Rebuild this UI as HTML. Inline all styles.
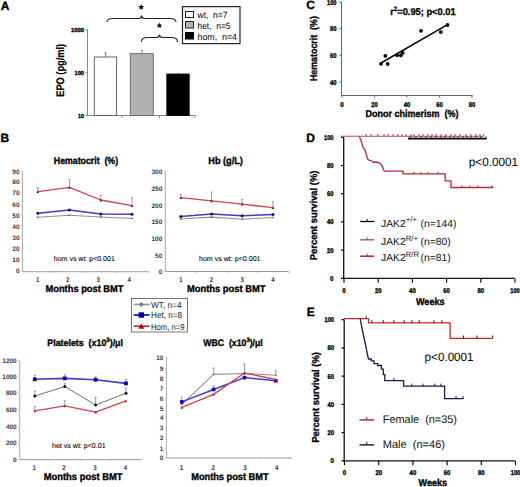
<!DOCTYPE html><html><head><meta charset="utf-8"><style>html,body{margin:0;padding:0;background:#fff;width:520px;height:487px;overflow:hidden}svg{display:block}</style></head><body><svg width="520" height="487" viewBox="0 0 520 487" text-rendering="geometricPrecision"><text x="0.8" y="9.6" font-size="12" font-family="Liberation Sans" font-weight="bold" stroke="#000" stroke-width="0.35" text-anchor="start" fill="#000" >A</text>
<line x1="87.5" y1="29.5" x2="87.5" y2="116" stroke="#888" stroke-width="1"/>
<line x1="87.5" y1="115.5" x2="195.5" y2="115.5" stroke="#888" stroke-width="1"/>
<line x1="122" y1="115.5" x2="122" y2="118" stroke="#888" stroke-width="1"/>
<line x1="159.5" y1="115.5" x2="159.5" y2="118" stroke="#888" stroke-width="1"/>
<line x1="195" y1="115.5" x2="195" y2="118" stroke="#888" stroke-width="1"/>
<line x1="85.5" y1="29.7" x2="87.5" y2="29.7" stroke="#888" stroke-width="1"/>
<line x1="85.5" y1="72.8" x2="87.5" y2="72.8" stroke="#888" stroke-width="1"/>
<line x1="85.5" y1="115.5" x2="87.5" y2="115.5" stroke="#888" stroke-width="1"/>
<text x="84" y="32" font-size="6" font-family="Liberation Sans" font-weight="bold" stroke="#000" stroke-width="0.35" text-anchor="end" fill="#000" textLength="13" lengthAdjust="spacingAndGlyphs" >1000</text>
<text x="84" y="75" font-size="6" font-family="Liberation Sans" font-weight="bold" stroke="#000" stroke-width="0.35" text-anchor="end" fill="#000" textLength="9.5" lengthAdjust="spacingAndGlyphs" >100</text>
<text x="84" y="118" font-size="6" font-family="Liberation Sans" font-weight="bold" stroke="#000" stroke-width="0.35" text-anchor="end" fill="#000" textLength="6" lengthAdjust="spacingAndGlyphs" >10</text>
<text x="0" y="0" font-size="11" font-family="Liberation Sans" font-weight="bold" stroke="#000" stroke-width="0.2" text-anchor="middle" transform="translate(63.8,70.3) rotate(-90)" textLength="53" lengthAdjust="spacingAndGlyphs">EPO (pg/ml)</text>
<rect x="94.3" y="57" width="22.3" height="58.5" fill="#fff" stroke="#555" stroke-width="0.9"/>
<rect x="130.3" y="53.6" width="23" height="62" fill="#b0b0b0" stroke="#666" stroke-width="0.9"/>
<rect x="166.8" y="74" width="22.4" height="41.5" fill="#000" stroke="#000" stroke-width="0.8"/>
<line x1="105.5" y1="57" x2="105.5" y2="53" stroke="#666" stroke-width="0.8"/>
<line x1="104.3" y1="53" x2="106.7" y2="53" stroke="#666" stroke-width="0.8"/>
<line x1="142" y1="53.5" x2="142" y2="50.3" stroke="#666" stroke-width="0.8"/>
<line x1="141" y1="50.3" x2="143" y2="50.3" stroke="#666" stroke-width="0.8"/>
<line x1="178" y1="74" x2="178" y2="72.5" stroke="#666" stroke-width="0.8"/>
<path d="M107,22 Q107,18.5 113,18.5 L138.5,18.5 Q141.5,18.5 141.5,15.5 Q141.5,18.5 144.5,18.5 L170,18.5 Q176,18.5 176,22" fill="none" stroke="#222" stroke-width="1.1"/>
<path d="M141.5,42 Q141.5,37.5 147.5,37.5 L156.5,37.5 Q159.5,37.5 159.5,34.5 Q159.5,37.5 162.5,37.5 L171.5,37.5 Q177.5,37.5 177.5,42" fill="none" stroke="#222" stroke-width="1.1"/>
<polygon points="141.20,4.10 142.08,5.99 144.15,6.24 142.63,7.66 143.02,9.71 141.20,8.70 139.38,9.71 139.77,7.66 138.25,6.24 140.32,5.99" fill="#111"/>
<polygon points="159.40,22.50 160.28,24.39 162.35,24.64 160.83,26.06 161.22,28.11 159.40,27.10 157.58,28.11 157.97,26.06 156.45,24.64 158.52,24.39" fill="#111"/>
<rect x="182.5" y="6.6" width="57.5" height="37" fill="#fff" stroke="#222" stroke-width="1.2"/>
<rect x="185.5" y="11.5" width="8" height="6" fill="#fff" stroke="#222" stroke-width="1"/>
<rect x="185.5" y="21.5" width="8" height="6.5" fill="#b4b4b4" stroke="#222" stroke-width="1"/>
<rect x="185.5" y="32.5" width="8" height="6.5" fill="#000" stroke="#000" stroke-width="1"/>
<text x="197.5" y="18" font-size="9" font-family="Liberation Sans" text-anchor="start" fill="#000" textLength="30" lengthAdjust="spacingAndGlyphs" >wt,&#160;&#160;n=7</text>
<text x="197.5" y="28.5" font-size="9" font-family="Liberation Sans" text-anchor="start" fill="#000" textLength="33" lengthAdjust="spacingAndGlyphs" >het,&#160;&#160;n=5</text>
<text x="197.5" y="39.5" font-size="9" font-family="Liberation Sans" text-anchor="start" fill="#000" textLength="39.5" lengthAdjust="spacingAndGlyphs" >hom,&#160;&#160;n=4</text>
<text x="306.3" y="9" font-size="12" font-family="Liberation Sans" font-weight="bold" stroke="#000" stroke-width="0.35" text-anchor="start" fill="#000" >C</text>
<line x1="341.5" y1="1.5" x2="341.5" y2="96" stroke="#666" stroke-width="1"/>
<line x1="341.5" y1="95.5" x2="472.5" y2="95.5" stroke="#666" stroke-width="1"/>
<line x1="339.5" y1="2.3" x2="341.5" y2="2.3" stroke="#666" stroke-width="1"/>
<text x="336.5" y="4.699999999999999" font-size="7" font-family="Liberation Sans" font-weight="bold" stroke="#000" stroke-width="0.35" text-anchor="end" fill="#000" textLength="9.5" lengthAdjust="spacingAndGlyphs" >100</text>
<line x1="339.5" y1="28.5" x2="341.5" y2="28.5" stroke="#666" stroke-width="1"/>
<text x="336.5" y="30.9" font-size="7" font-family="Liberation Sans" font-weight="bold" stroke="#000" stroke-width="0.35" text-anchor="end" fill="#000" textLength="6.5" lengthAdjust="spacingAndGlyphs" >80</text>
<line x1="339.5" y1="55.4" x2="341.5" y2="55.4" stroke="#666" stroke-width="1"/>
<text x="336.5" y="57.8" font-size="7" font-family="Liberation Sans" font-weight="bold" stroke="#000" stroke-width="0.35" text-anchor="end" fill="#000" textLength="6.5" lengthAdjust="spacingAndGlyphs" >60</text>
<line x1="339.5" y1="82.1" x2="341.5" y2="82.1" stroke="#666" stroke-width="1"/>
<text x="336.5" y="84.5" font-size="7" font-family="Liberation Sans" font-weight="bold" stroke="#000" stroke-width="0.35" text-anchor="end" fill="#000" textLength="6.5" lengthAdjust="spacingAndGlyphs" >40</text>
<line x1="342.0" y1="95.5" x2="342.0" y2="97.5" stroke="#666" stroke-width="1"/>
<text x="342.0" y="106.6" font-size="7" font-family="Liberation Sans" font-weight="bold" stroke="#000" stroke-width="0.35" text-anchor="middle" fill="#000" textLength="3.5" lengthAdjust="spacingAndGlyphs" >0</text>
<line x1="374.5" y1="95.5" x2="374.5" y2="97.5" stroke="#666" stroke-width="1"/>
<text x="374.5" y="106.6" font-size="7" font-family="Liberation Sans" font-weight="bold" stroke="#000" stroke-width="0.35" text-anchor="middle" fill="#000" textLength="6.5" lengthAdjust="spacingAndGlyphs" >20</text>
<line x1="407.0" y1="95.5" x2="407.0" y2="97.5" stroke="#666" stroke-width="1"/>
<text x="407.0" y="106.6" font-size="7" font-family="Liberation Sans" font-weight="bold" stroke="#000" stroke-width="0.35" text-anchor="middle" fill="#000" textLength="6.5" lengthAdjust="spacingAndGlyphs" >40</text>
<line x1="439.5" y1="95.5" x2="439.5" y2="97.5" stroke="#666" stroke-width="1"/>
<text x="439.5" y="106.6" font-size="7" font-family="Liberation Sans" font-weight="bold" stroke="#000" stroke-width="0.35" text-anchor="middle" fill="#000" textLength="6.5" lengthAdjust="spacingAndGlyphs" >60</text>
<line x1="472.0" y1="95.5" x2="472.0" y2="97.5" stroke="#666" stroke-width="1"/>
<text x="472.0" y="106.6" font-size="7" font-family="Liberation Sans" font-weight="bold" stroke="#000" stroke-width="0.35" text-anchor="middle" fill="#000" textLength="6.5" lengthAdjust="spacingAndGlyphs" >80</text>
<text x="0" y="0" font-size="10" font-family="Liberation Sans" font-weight="bold" stroke="#000" stroke-width="0.3" text-anchor="middle" transform="translate(316.6,48.6) rotate(-90)" textLength="65" lengthAdjust="spacingAndGlyphs">Hematocrit&#160; (%)</text>
<text x="365.4" y="116.8" font-size="10" font-family="Liberation Sans" font-weight="bold" stroke="#000" stroke-width="0.35" text-anchor="start" fill="#000" textLength="93" lengthAdjust="spacingAndGlyphs" >Donor chimerism&#160; (%)</text>
<text x="390.2" y="15" font-size="9.8" font-family="Liberation Sans" font-weight="bold" stroke="#000" stroke-width="0.3" textLength="65.4" lengthAdjust="spacingAndGlyphs">r<tspan dy="-4" font-size="6.5">2</tspan><tspan dy="4">=0.95; p&lt;0.01</tspan></text>
<line x1="381" y1="63" x2="447.5" y2="24.6" stroke="#000" stroke-width="1.5"/>
<circle cx="381" cy="63.8" r="1.9" fill="#000"/>
<circle cx="387.7" cy="64" r="1.9" fill="#000"/>
<circle cx="385.4" cy="55.8" r="1.9" fill="#000"/>
<circle cx="397" cy="55.2" r="1.9" fill="#000"/>
<circle cx="400.8" cy="55.4" r="1.9" fill="#000"/>
<circle cx="402.7" cy="52.9" r="1.9" fill="#000"/>
<circle cx="421" cy="30.8" r="1.9" fill="#000"/>
<circle cx="440.8" cy="32.1" r="1.9" fill="#000"/>
<circle cx="447.5" cy="25" r="1.9" fill="#000"/>
<text x="0.5" y="142" font-size="12" font-family="Liberation Sans" font-weight="bold" stroke="#000" stroke-width="0.35" text-anchor="start" fill="#000" >B</text>
<line x1="22.5" y1="171" x2="22.5" y2="271.7" stroke="#aaa" stroke-width="1"/>
<line x1="22.5" y1="271.7" x2="148.5" y2="271.7" stroke="#999" stroke-width="1"/>
<line x1="21.0" y1="171.2" x2="22.5" y2="171.2" stroke="#ccc" stroke-width="1"/>
<text x="19.5" y="173.5" font-size="6.5" font-family="Liberation Sans" text-anchor="end" fill="#3a3a3a" textLength="7.2" lengthAdjust="spacingAndGlyphs" font-weight="bold">90</text>
<line x1="21.0" y1="182" x2="22.5" y2="182" stroke="#ccc" stroke-width="1"/>
<text x="19.5" y="184.3" font-size="6.5" font-family="Liberation Sans" text-anchor="end" fill="#3a3a3a" textLength="7.2" lengthAdjust="spacingAndGlyphs" font-weight="bold">80</text>
<line x1="21.0" y1="193" x2="22.5" y2="193" stroke="#ccc" stroke-width="1"/>
<text x="19.5" y="195.3" font-size="6.5" font-family="Liberation Sans" text-anchor="end" fill="#3a3a3a" textLength="7.2" lengthAdjust="spacingAndGlyphs" font-weight="bold">70</text>
<line x1="21.0" y1="204.5" x2="22.5" y2="204.5" stroke="#ccc" stroke-width="1"/>
<text x="19.5" y="206.8" font-size="6.5" font-family="Liberation Sans" text-anchor="end" fill="#3a3a3a" textLength="7.2" lengthAdjust="spacingAndGlyphs" font-weight="bold">60</text>
<line x1="21.0" y1="215.5" x2="22.5" y2="215.5" stroke="#ccc" stroke-width="1"/>
<text x="19.5" y="217.8" font-size="6.5" font-family="Liberation Sans" text-anchor="end" fill="#3a3a3a" textLength="7.2" lengthAdjust="spacingAndGlyphs" font-weight="bold">50</text>
<line x1="21.0" y1="226.5" x2="22.5" y2="226.5" stroke="#ccc" stroke-width="1"/>
<text x="19.5" y="228.8" font-size="6.5" font-family="Liberation Sans" text-anchor="end" fill="#3a3a3a" textLength="7.2" lengthAdjust="spacingAndGlyphs" font-weight="bold">40</text>
<line x1="21.0" y1="237.5" x2="22.5" y2="237.5" stroke="#ccc" stroke-width="1"/>
<text x="19.5" y="239.8" font-size="6.5" font-family="Liberation Sans" text-anchor="end" fill="#3a3a3a" textLength="7.2" lengthAdjust="spacingAndGlyphs" font-weight="bold">30</text>
<line x1="21.0" y1="248.5" x2="22.5" y2="248.5" stroke="#ccc" stroke-width="1"/>
<text x="19.5" y="250.8" font-size="6.5" font-family="Liberation Sans" text-anchor="end" fill="#3a3a3a" textLength="7.2" lengthAdjust="spacingAndGlyphs" font-weight="bold">20</text>
<line x1="21.0" y1="259.3" x2="22.5" y2="259.3" stroke="#ccc" stroke-width="1"/>
<text x="19.5" y="261.6" font-size="6.5" font-family="Liberation Sans" text-anchor="end" fill="#3a3a3a" textLength="7.2" lengthAdjust="spacingAndGlyphs" font-weight="bold">10</text>
<line x1="21.0" y1="270.2" x2="22.5" y2="270.2" stroke="#ccc" stroke-width="1"/>
<text x="19.5" y="272.5" font-size="6.5" font-family="Liberation Sans" text-anchor="end" fill="#3a3a3a" textLength="3.6" lengthAdjust="spacingAndGlyphs" font-weight="bold">0</text>
<text x="37.6" y="282.09999999999997" font-size="6.8" font-family="Liberation Sans" text-anchor="middle" fill="#3a3a3a" textLength="3.4" lengthAdjust="spacingAndGlyphs" font-weight="bold">1</text>
<text x="67.8" y="282.09999999999997" font-size="6.8" font-family="Liberation Sans" text-anchor="middle" fill="#3a3a3a" textLength="3.4" lengthAdjust="spacingAndGlyphs" font-weight="bold">2</text>
<text x="98.3" y="282.09999999999997" font-size="6.8" font-family="Liberation Sans" text-anchor="middle" fill="#3a3a3a" textLength="3.4" lengthAdjust="spacingAndGlyphs" font-weight="bold">3</text>
<text x="129.3" y="282.09999999999997" font-size="6.8" font-family="Liberation Sans" text-anchor="middle" fill="#3a3a3a" textLength="3.4" lengthAdjust="spacingAndGlyphs" font-weight="bold">4</text>
<line x1="53.6" y1="271.7" x2="53.6" y2="273.2" stroke="#bbb" stroke-width="1"/>
<line x1="85.2" y1="271.7" x2="85.2" y2="273.2" stroke="#bbb" stroke-width="1"/>
<line x1="116.8" y1="271.7" x2="116.8" y2="273.2" stroke="#bbb" stroke-width="1"/>
<line x1="148.4" y1="271.7" x2="148.4" y2="273.2" stroke="#bbb" stroke-width="1"/>
<line x1="37.8" y1="191.6" x2="37.8" y2="187.7" stroke="#888" stroke-width="0.8"/>
<line x1="36.699999999999996" y1="187.7" x2="38.9" y2="187.7" stroke="#888" stroke-width="0.8"/>
<line x1="69.4" y1="187.3" x2="69.4" y2="179.5" stroke="#888" stroke-width="0.8"/>
<line x1="68.30000000000001" y1="179.5" x2="70.5" y2="179.5" stroke="#888" stroke-width="0.8"/>
<line x1="100.8" y1="200" x2="100.8" y2="195.5" stroke="#888" stroke-width="0.8"/>
<line x1="99.7" y1="195.5" x2="101.89999999999999" y2="195.5" stroke="#888" stroke-width="0.8"/>
<line x1="132" y1="205.7" x2="132" y2="197.8" stroke="#888" stroke-width="0.8"/>
<line x1="130.9" y1="197.8" x2="133.1" y2="197.8" stroke="#888" stroke-width="0.8"/>
<polyline points="37.8,217.3 69.4,215.2 100.8,217 132,218.5" fill="none" stroke="#909090" stroke-width="1.1" stroke-linejoin="round"/>
<path d="M36.5,217.3 L37.8,216.0 L39.099999999999994,217.3 L37.8,218.60000000000002 Z" fill="#777"/>
<path d="M68.10000000000001,215.2 L69.4,213.89999999999998 L70.7,215.2 L69.4,216.5 Z" fill="#777"/>
<path d="M99.5,217 L100.8,215.7 L102.1,217 L100.8,218.3 Z" fill="#777"/>
<path d="M130.7,218.5 L132,217.2 L133.3,218.5 L132,219.8 Z" fill="#777"/>
<polyline points="37.8,213.3 69.4,209.9 100.8,213.9 132,214.2" fill="none" stroke="#3c3cc8" stroke-width="1.5" stroke-linejoin="round"/>
<circle cx="37.8" cy="213.3" r="1.5" fill="#101060"/>
<circle cx="69.4" cy="209.9" r="1.5" fill="#101060"/>
<circle cx="100.8" cy="213.9" r="1.5" fill="#101060"/>
<circle cx="132" cy="214.2" r="1.5" fill="#101060"/>
<polyline points="37.8,191.6 69.4,187.3 100.8,200 132,205.7" fill="none" stroke="#d4404c" stroke-width="1.3" stroke-linejoin="round"/>
<path d="M36.4,193.0 L39.199999999999996,193.0 L37.8,190.2 Z" fill="#901020"/>
<path d="M68.0,188.70000000000002 L70.80000000000001,188.70000000000002 L69.4,185.9 Z" fill="#901020"/>
<path d="M99.39999999999999,201.4 L102.2,201.4 L100.8,198.6 Z" fill="#901020"/>
<path d="M130.6,207.1 L133.4,207.1 L132,204.29999999999998 Z" fill="#901020"/>
<text x="53.8" y="164.2" font-size="10" font-family="Liberation Sans" font-weight="bold" stroke="#000" stroke-width="0.35" text-anchor="start" fill="#000" textLength="64.3" lengthAdjust="spacingAndGlyphs" >Hematocrit&#160; (%)</text>
<text x="53.8" y="261" font-size="7" font-family="Liberation Sans" text-anchor="start" fill="#000" textLength="61" lengthAdjust="spacingAndGlyphs" stroke="#222" stroke-width="0.12">hom vs wt: p&lt;0.001</text>
<text x="45.5" y="291.9" font-size="10" font-family="Liberation Sans" font-weight="bold" stroke="#000" stroke-width="0.35" text-anchor="start" fill="#000" textLength="78" lengthAdjust="spacingAndGlyphs" >Months post BMT</text>
<line x1="165.3" y1="171" x2="165.3" y2="271.5" stroke="#aaa" stroke-width="1"/>
<line x1="165.3" y1="271.5" x2="288.5" y2="271.5" stroke="#999" stroke-width="1"/>
<line x1="163.8" y1="171.8" x2="165.3" y2="171.8" stroke="#ccc" stroke-width="1"/>
<text x="162.3" y="174.10000000000002" font-size="6.5" font-family="Liberation Sans" text-anchor="end" fill="#3a3a3a" textLength="10.8" lengthAdjust="spacingAndGlyphs" font-weight="bold">300</text>
<line x1="163.8" y1="188.8" x2="165.3" y2="188.8" stroke="#ccc" stroke-width="1"/>
<text x="162.3" y="191.10000000000002" font-size="6.5" font-family="Liberation Sans" text-anchor="end" fill="#3a3a3a" textLength="10.8" lengthAdjust="spacingAndGlyphs" font-weight="bold">250</text>
<line x1="163.8" y1="205.4" x2="165.3" y2="205.4" stroke="#ccc" stroke-width="1"/>
<text x="162.3" y="207.70000000000002" font-size="6.5" font-family="Liberation Sans" text-anchor="end" fill="#3a3a3a" textLength="10.8" lengthAdjust="spacingAndGlyphs" font-weight="bold">200</text>
<line x1="163.8" y1="222" x2="165.3" y2="222" stroke="#ccc" stroke-width="1"/>
<text x="162.3" y="224.3" font-size="6.5" font-family="Liberation Sans" text-anchor="end" fill="#3a3a3a" textLength="10.8" lengthAdjust="spacingAndGlyphs" font-weight="bold">150</text>
<line x1="163.8" y1="238.5" x2="165.3" y2="238.5" stroke="#ccc" stroke-width="1"/>
<text x="162.3" y="240.8" font-size="6.5" font-family="Liberation Sans" text-anchor="end" fill="#3a3a3a" textLength="10.8" lengthAdjust="spacingAndGlyphs" font-weight="bold">100</text>
<line x1="163.8" y1="255.2" x2="165.3" y2="255.2" stroke="#ccc" stroke-width="1"/>
<text x="162.3" y="257.5" font-size="6.5" font-family="Liberation Sans" text-anchor="end" fill="#3a3a3a" textLength="7.2" lengthAdjust="spacingAndGlyphs" font-weight="bold">50</text>
<line x1="163.8" y1="271.2" x2="165.3" y2="271.2" stroke="#ccc" stroke-width="1"/>
<text x="162.3" y="273.5" font-size="6.5" font-family="Liberation Sans" text-anchor="end" fill="#3a3a3a" textLength="3.6" lengthAdjust="spacingAndGlyphs" font-weight="bold">0</text>
<text x="181" y="282.09999999999997" font-size="6.8" font-family="Liberation Sans" text-anchor="middle" fill="#3a3a3a" textLength="3.4" lengthAdjust="spacingAndGlyphs" font-weight="bold">1</text>
<text x="211.5" y="282.09999999999997" font-size="6.8" font-family="Liberation Sans" text-anchor="middle" fill="#3a3a3a" textLength="3.4" lengthAdjust="spacingAndGlyphs" font-weight="bold">2</text>
<text x="242.3" y="282.09999999999997" font-size="6.8" font-family="Liberation Sans" text-anchor="middle" fill="#3a3a3a" textLength="3.4" lengthAdjust="spacingAndGlyphs" font-weight="bold">3</text>
<text x="273" y="282.09999999999997" font-size="6.8" font-family="Liberation Sans" text-anchor="middle" fill="#3a3a3a" textLength="3.4" lengthAdjust="spacingAndGlyphs" font-weight="bold">4</text>
<line x1="196.2" y1="271.5" x2="196.2" y2="273.0" stroke="#bbb" stroke-width="1"/>
<line x1="227" y1="271.5" x2="227" y2="273.0" stroke="#bbb" stroke-width="1"/>
<line x1="257.8" y1="271.5" x2="257.8" y2="273.0" stroke="#bbb" stroke-width="1"/>
<line x1="288.6" y1="271.5" x2="288.6" y2="273.0" stroke="#bbb" stroke-width="1"/>
<line x1="180.8" y1="197.6" x2="180.8" y2="194.3" stroke="#888" stroke-width="0.8"/>
<line x1="179.70000000000002" y1="194.3" x2="181.9" y2="194.3" stroke="#888" stroke-width="0.8"/>
<line x1="211.6" y1="200.8" x2="211.6" y2="192.2" stroke="#888" stroke-width="0.8"/>
<line x1="210.5" y1="192.2" x2="212.7" y2="192.2" stroke="#888" stroke-width="0.8"/>
<line x1="242.2" y1="204.2" x2="242.2" y2="199.3" stroke="#888" stroke-width="0.8"/>
<line x1="241.1" y1="199.3" x2="243.29999999999998" y2="199.3" stroke="#888" stroke-width="0.8"/>
<line x1="273" y1="207.6" x2="273" y2="201.9" stroke="#888" stroke-width="0.8"/>
<line x1="271.9" y1="201.9" x2="274.1" y2="201.9" stroke="#888" stroke-width="0.8"/>
<polyline points="180.8,219 211.6,217.1 242.2,219.2 273,217.5" fill="none" stroke="#909090" stroke-width="1.1" stroke-linejoin="round"/>
<path d="M179.5,219 L180.8,217.7 L182.10000000000002,219 L180.8,220.3 Z" fill="#777"/>
<path d="M210.29999999999998,217.1 L211.6,215.79999999999998 L212.9,217.1 L211.6,218.4 Z" fill="#777"/>
<path d="M240.89999999999998,219.2 L242.2,217.89999999999998 L243.5,219.2 L242.2,220.5 Z" fill="#777"/>
<path d="M271.7,217.5 L273,216.2 L274.3,217.5 L273,218.8 Z" fill="#777"/>
<polyline points="180.8,216.5 211.6,214 242.2,215.7 273,214.5" fill="none" stroke="#3c3cc8" stroke-width="1.5" stroke-linejoin="round"/>
<circle cx="180.8" cy="216.5" r="1.5" fill="#101060"/>
<circle cx="211.6" cy="214" r="1.5" fill="#101060"/>
<circle cx="242.2" cy="215.7" r="1.5" fill="#101060"/>
<circle cx="273" cy="214.5" r="1.5" fill="#101060"/>
<polyline points="180.8,197.6 211.6,200.8 242.2,204.2 273,207.6" fill="none" stroke="#d4404c" stroke-width="1.3" stroke-linejoin="round"/>
<path d="M179.4,199.0 L182.20000000000002,199.0 L180.8,196.2 Z" fill="#901020"/>
<path d="M210.2,202.20000000000002 L213.0,202.20000000000002 L211.6,199.4 Z" fill="#901020"/>
<path d="M240.79999999999998,205.6 L243.6,205.6 L242.2,202.79999999999998 Z" fill="#901020"/>
<path d="M271.6,209.0 L274.4,209.0 L273,206.2 Z" fill="#901020"/>
<text x="208.3" y="164.2" font-size="10" font-family="Liberation Sans" font-weight="bold" stroke="#000" stroke-width="0.35" text-anchor="start" fill="#000" textLength="34.6" lengthAdjust="spacingAndGlyphs" >Hb (g/L)</text>
<text x="199" y="260.5" font-size="7" font-family="Liberation Sans" text-anchor="start" fill="#000" textLength="61.5" lengthAdjust="spacingAndGlyphs" stroke="#222" stroke-width="0.12">hom vs wt: p&lt;0.001</text>
<text x="187" y="291.9" font-size="10" font-family="Liberation Sans" font-weight="bold" stroke="#000" stroke-width="0.35" text-anchor="start" fill="#000" textLength="78.5" lengthAdjust="spacingAndGlyphs" >Months post BMT</text>
<rect x="131.5" y="298.5" width="56" height="33.5" fill="#fff" stroke="#555" stroke-width="0.8"/>
<line x1="133.7" y1="304.4" x2="149.6" y2="304.4" stroke="#909090" stroke-width="1.5"/>
<path d="M138.8,304.4 L141.3,301.9 L143.8,304.4 L141.3,306.9 Z" fill="#777"/>
<line x1="133.7" y1="315" x2="149.6" y2="315" stroke="#2020b0" stroke-width="1.8"/>
<rect x="138.6" y="312.3" width="5.4" height="5.4" fill="#0000b0"/>
<line x1="133.7" y1="326.2" x2="149.6" y2="326.2" stroke="#d02020" stroke-width="1.6"/>
<path d="M138.3,328.7 L144.3,328.7 L141.3,323.4 Z" fill="#c00000"/>
<text x="151" y="307.6" font-size="8.8" font-family="Liberation Sans" text-anchor="start" fill="#222" textLength="30.5" lengthAdjust="spacingAndGlyphs" >WT, n=4</text>
<text x="151" y="318.4" font-size="8.8" font-family="Liberation Sans" text-anchor="start" fill="#222" textLength="31" lengthAdjust="spacingAndGlyphs" >Het, n=8</text>
<text x="151" y="329.6" font-size="8.8" font-family="Liberation Sans" text-anchor="start" fill="#222" textLength="33.6" lengthAdjust="spacingAndGlyphs" >Hom, n=9</text>
<line x1="19.7" y1="360" x2="19.7" y2="459.6" stroke="#aaa" stroke-width="1"/>
<line x1="19.7" y1="459.6" x2="141" y2="459.6" stroke="#999" stroke-width="1"/>
<line x1="18.2" y1="360.4" x2="19.7" y2="360.4" stroke="#ccc" stroke-width="1"/>
<text x="16.7" y="362.7" font-size="6.5" font-family="Liberation Sans" text-anchor="end" fill="#3a3a3a" textLength="14.4" lengthAdjust="spacingAndGlyphs" font-weight="bold">1200</text>
<line x1="18.2" y1="376.3" x2="19.7" y2="376.3" stroke="#ccc" stroke-width="1"/>
<text x="16.7" y="378.6" font-size="6.5" font-family="Liberation Sans" text-anchor="end" fill="#3a3a3a" textLength="14.4" lengthAdjust="spacingAndGlyphs" font-weight="bold">1000</text>
<line x1="18.2" y1="393" x2="19.7" y2="393" stroke="#ccc" stroke-width="1"/>
<text x="16.7" y="395.3" font-size="6.5" font-family="Liberation Sans" text-anchor="end" fill="#3a3a3a" textLength="10.8" lengthAdjust="spacingAndGlyphs" font-weight="bold">800</text>
<line x1="18.2" y1="409.9" x2="19.7" y2="409.9" stroke="#ccc" stroke-width="1"/>
<text x="16.7" y="412.2" font-size="6.5" font-family="Liberation Sans" text-anchor="end" fill="#3a3a3a" textLength="10.8" lengthAdjust="spacingAndGlyphs" font-weight="bold">600</text>
<line x1="18.2" y1="426.2" x2="19.7" y2="426.2" stroke="#ccc" stroke-width="1"/>
<text x="16.7" y="428.5" font-size="6.5" font-family="Liberation Sans" text-anchor="end" fill="#3a3a3a" textLength="10.8" lengthAdjust="spacingAndGlyphs" font-weight="bold">400</text>
<line x1="18.2" y1="442.7" x2="19.7" y2="442.7" stroke="#ccc" stroke-width="1"/>
<text x="16.7" y="445.0" font-size="6.5" font-family="Liberation Sans" text-anchor="end" fill="#3a3a3a" textLength="10.8" lengthAdjust="spacingAndGlyphs" font-weight="bold">200</text>
<line x1="18.2" y1="460" x2="19.7" y2="460" stroke="#ccc" stroke-width="1"/>
<text x="16.7" y="462.3" font-size="6.5" font-family="Liberation Sans" text-anchor="end" fill="#3a3a3a" textLength="3.6" lengthAdjust="spacingAndGlyphs" font-weight="bold">0</text>
<text x="34.2" y="469.5" font-size="6.8" font-family="Liberation Sans" text-anchor="middle" fill="#3a3a3a" textLength="3.4" lengthAdjust="spacingAndGlyphs" font-weight="bold">1</text>
<text x="64" y="469.5" font-size="6.8" font-family="Liberation Sans" text-anchor="middle" fill="#3a3a3a" textLength="3.4" lengthAdjust="spacingAndGlyphs" font-weight="bold">2</text>
<text x="95" y="469.5" font-size="6.8" font-family="Liberation Sans" text-anchor="middle" fill="#3a3a3a" textLength="3.4" lengthAdjust="spacingAndGlyphs" font-weight="bold">3</text>
<text x="125.5" y="469.5" font-size="6.8" font-family="Liberation Sans" text-anchor="middle" fill="#3a3a3a" textLength="3.4" lengthAdjust="spacingAndGlyphs" font-weight="bold">4</text>
<line x1="50" y1="459.6" x2="50" y2="461.1" stroke="#bbb" stroke-width="1"/>
<line x1="80.4" y1="459.6" x2="80.4" y2="461.1" stroke="#bbb" stroke-width="1"/>
<line x1="110.8" y1="459.6" x2="110.8" y2="461.1" stroke="#bbb" stroke-width="1"/>
<line x1="141.2" y1="459.6" x2="141.2" y2="461.1" stroke="#bbb" stroke-width="1"/>
<line x1="34.8" y1="379.3" x2="34.8" y2="375" stroke="#888" stroke-width="0.8"/>
<line x1="33.699999999999996" y1="375" x2="35.9" y2="375" stroke="#888" stroke-width="0.8"/>
<line x1="64.8" y1="378.4" x2="64.8" y2="374.8" stroke="#888" stroke-width="0.8"/>
<line x1="63.699999999999996" y1="374.8" x2="65.89999999999999" y2="374.8" stroke="#888" stroke-width="0.8"/>
<line x1="95.6" y1="379.7" x2="95.6" y2="376.8" stroke="#888" stroke-width="0.8"/>
<line x1="94.5" y1="376.8" x2="96.69999999999999" y2="376.8" stroke="#888" stroke-width="0.8"/>
<line x1="126" y1="383.4" x2="126" y2="379.3" stroke="#888" stroke-width="0.8"/>
<line x1="124.9" y1="379.3" x2="127.1" y2="379.3" stroke="#888" stroke-width="0.8"/>
<line x1="34.8" y1="396" x2="34.8" y2="391" stroke="#888" stroke-width="0.8"/>
<line x1="33.699999999999996" y1="391" x2="35.9" y2="391" stroke="#888" stroke-width="0.8"/>
<line x1="64.8" y1="386.5" x2="64.8" y2="383.4" stroke="#888" stroke-width="0.8"/>
<line x1="63.699999999999996" y1="383.4" x2="65.89999999999999" y2="383.4" stroke="#888" stroke-width="0.8"/>
<line x1="95.6" y1="405" x2="95.6" y2="397.4" stroke="#888" stroke-width="0.8"/>
<line x1="94.5" y1="397.4" x2="96.69999999999999" y2="397.4" stroke="#888" stroke-width="0.8"/>
<line x1="126" y1="393.2" x2="126" y2="387.9" stroke="#888" stroke-width="0.8"/>
<line x1="124.9" y1="387.9" x2="127.1" y2="387.9" stroke="#888" stroke-width="0.8"/>
<line x1="34.8" y1="410.9" x2="34.8" y2="406.5" stroke="#888" stroke-width="0.8"/>
<line x1="33.699999999999996" y1="406.5" x2="35.9" y2="406.5" stroke="#888" stroke-width="0.8"/>
<line x1="64.8" y1="405.9" x2="64.8" y2="400.8" stroke="#888" stroke-width="0.8"/>
<line x1="63.699999999999996" y1="400.8" x2="65.89999999999999" y2="400.8" stroke="#888" stroke-width="0.8"/>
<polyline points="34.8,396 64.8,386.5 95.6,405 126,393.2" fill="none" stroke="#707070" stroke-width="1.0" stroke-linejoin="round"/>
<circle cx="34.8" cy="396" r="1.5" fill="#101040"/>
<circle cx="64.8" cy="386.5" r="1.5" fill="#101040"/>
<circle cx="95.6" cy="405" r="1.5" fill="#101040"/>
<circle cx="126" cy="393.2" r="1.5" fill="#101040"/>
<polyline points="34.8,410.9 64.8,405.9 95.6,412.1 126,400.8" fill="none" stroke="#d4404c" stroke-width="1.4" stroke-linejoin="round"/>
<path d="M33.4,412.29999999999995 L36.199999999999996,412.29999999999995 L34.8,409.5 Z" fill="#c02030"/>
<path d="M63.4,407.29999999999995 L66.2,407.29999999999995 L64.8,404.5 Z" fill="#c02030"/>
<path d="M94.19999999999999,413.5 L97.0,413.5 L95.6,410.70000000000005 Z" fill="#c02030"/>
<path d="M124.6,402.2 L127.4,402.2 L126,399.40000000000003 Z" fill="#c02030"/>
<polyline points="34.8,379.3 64.8,378.4 95.6,379.7 126,383.4" fill="none" stroke="#3c3cc8" stroke-width="1.6" stroke-linejoin="round"/>
<rect x="32.9" y="377.40000000000003" width="3.8" height="3.8" fill="#0a0aa0"/>
<rect x="62.9" y="376.5" width="3.8" height="3.8" fill="#0a0aa0"/>
<rect x="93.69999999999999" y="377.8" width="3.8" height="3.8" fill="#0a0aa0"/>
<rect x="124.1" y="381.5" width="3.8" height="3.8" fill="#0a0aa0"/>
<text x="47.3" y="345.6" font-size="9.5" font-family="Liberation Sans" font-weight="bold" stroke="#000" stroke-width="0.35" text-anchor="start" fill="#000" textLength="75.7" lengthAdjust="spacingAndGlyphs" >Platelets&#160; (x10<tspan dy="-3.3" font-size="6.5">3</tspan><tspan dy="3.3">)/μl</tspan></text>
<text x="52" y="448" font-size="7" font-family="Liberation Sans" text-anchor="start" fill="#000" textLength="53.6" lengthAdjust="spacingAndGlyphs" stroke="#222" stroke-width="0.12">het vs wt: p&lt;0.01</text>
<text x="43.7" y="480.1" font-size="10" font-family="Liberation Sans" font-weight="bold" stroke="#000" stroke-width="0.35" text-anchor="start" fill="#000" textLength="78.8" lengthAdjust="spacingAndGlyphs" >Months post BMT</text>
<line x1="166.4" y1="357" x2="166.4" y2="458" stroke="#aaa" stroke-width="1"/>
<line x1="166.4" y1="458" x2="291.7" y2="458" stroke="#999" stroke-width="1"/>
<line x1="164.9" y1="358.1" x2="166.4" y2="358.1" stroke="#ccc" stroke-width="1"/>
<text x="163.4" y="360.40000000000003" font-size="6.5" font-family="Liberation Sans" text-anchor="end" fill="#3a3a3a" textLength="7.2" lengthAdjust="spacingAndGlyphs" font-weight="bold">10</text>
<line x1="164.9" y1="368.4" x2="166.4" y2="368.4" stroke="#ccc" stroke-width="1"/>
<text x="163.4" y="370.7" font-size="6.5" font-family="Liberation Sans" text-anchor="end" fill="#3a3a3a" textLength="3.6" lengthAdjust="spacingAndGlyphs" font-weight="bold">9</text>
<line x1="164.9" y1="378.5" x2="166.4" y2="378.5" stroke="#ccc" stroke-width="1"/>
<text x="163.4" y="380.8" font-size="6.5" font-family="Liberation Sans" text-anchor="end" fill="#3a3a3a" textLength="3.6" lengthAdjust="spacingAndGlyphs" font-weight="bold">8</text>
<line x1="164.9" y1="388.5" x2="166.4" y2="388.5" stroke="#ccc" stroke-width="1"/>
<text x="163.4" y="390.8" font-size="6.5" font-family="Liberation Sans" text-anchor="end" fill="#3a3a3a" textLength="3.6" lengthAdjust="spacingAndGlyphs" font-weight="bold">7</text>
<line x1="164.9" y1="398.4" x2="166.4" y2="398.4" stroke="#ccc" stroke-width="1"/>
<text x="163.4" y="400.7" font-size="6.5" font-family="Liberation Sans" text-anchor="end" fill="#3a3a3a" textLength="3.6" lengthAdjust="spacingAndGlyphs" font-weight="bold">6</text>
<line x1="164.9" y1="408.2" x2="166.4" y2="408.2" stroke="#ccc" stroke-width="1"/>
<text x="163.4" y="410.5" font-size="6.5" font-family="Liberation Sans" text-anchor="end" fill="#3a3a3a" textLength="3.6" lengthAdjust="spacingAndGlyphs" font-weight="bold">5</text>
<line x1="164.9" y1="418" x2="166.4" y2="418" stroke="#ccc" stroke-width="1"/>
<text x="163.4" y="420.3" font-size="6.5" font-family="Liberation Sans" text-anchor="end" fill="#3a3a3a" textLength="3.6" lengthAdjust="spacingAndGlyphs" font-weight="bold">4</text>
<line x1="164.9" y1="428" x2="166.4" y2="428" stroke="#ccc" stroke-width="1"/>
<text x="163.4" y="430.3" font-size="6.5" font-family="Liberation Sans" text-anchor="end" fill="#3a3a3a" textLength="3.6" lengthAdjust="spacingAndGlyphs" font-weight="bold">3</text>
<line x1="164.9" y1="437.8" x2="166.4" y2="437.8" stroke="#ccc" stroke-width="1"/>
<text x="163.4" y="440.1" font-size="6.5" font-family="Liberation Sans" text-anchor="end" fill="#3a3a3a" textLength="3.6" lengthAdjust="spacingAndGlyphs" font-weight="bold">2</text>
<line x1="164.9" y1="448.3" x2="166.4" y2="448.3" stroke="#ccc" stroke-width="1"/>
<text x="163.4" y="450.6" font-size="6.5" font-family="Liberation Sans" text-anchor="end" fill="#3a3a3a" textLength="3.6" lengthAdjust="spacingAndGlyphs" font-weight="bold">1</text>
<line x1="164.9" y1="458" x2="166.4" y2="458" stroke="#ccc" stroke-width="1"/>
<text x="163.4" y="460.3" font-size="6.5" font-family="Liberation Sans" text-anchor="end" fill="#3a3a3a" textLength="3.6" lengthAdjust="spacingAndGlyphs" font-weight="bold">0</text>
<text x="181.5" y="469.79999999999995" font-size="6.8" font-family="Liberation Sans" text-anchor="middle" fill="#3a3a3a" textLength="3.4" lengthAdjust="spacingAndGlyphs" font-weight="bold">1</text>
<text x="213.3" y="469.79999999999995" font-size="6.8" font-family="Liberation Sans" text-anchor="middle" fill="#3a3a3a" textLength="3.4" lengthAdjust="spacingAndGlyphs" font-weight="bold">2</text>
<text x="244.9" y="469.79999999999995" font-size="6.8" font-family="Liberation Sans" text-anchor="middle" fill="#3a3a3a" textLength="3.4" lengthAdjust="spacingAndGlyphs" font-weight="bold">3</text>
<text x="276.7" y="469.79999999999995" font-size="6.8" font-family="Liberation Sans" text-anchor="middle" fill="#3a3a3a" textLength="3.4" lengthAdjust="spacingAndGlyphs" font-weight="bold">4</text>
<line x1="198" y1="458" x2="198" y2="459.5" stroke="#bbb" stroke-width="1"/>
<line x1="229.2" y1="458" x2="229.2" y2="459.5" stroke="#bbb" stroke-width="1"/>
<line x1="260.5" y1="458" x2="260.5" y2="459.5" stroke="#bbb" stroke-width="1"/>
<line x1="291.7" y1="458" x2="291.7" y2="459.5" stroke="#bbb" stroke-width="1"/>
<line x1="181.8" y1="401.9" x2="181.8" y2="397" stroke="#888" stroke-width="0.8"/>
<line x1="180.70000000000002" y1="397" x2="182.9" y2="397" stroke="#888" stroke-width="0.8"/>
<line x1="213.6" y1="389.5" x2="213.6" y2="386" stroke="#888" stroke-width="0.8"/>
<line x1="212.5" y1="386" x2="214.7" y2="386" stroke="#888" stroke-width="0.8"/>
<line x1="213.6" y1="374.4" x2="213.6" y2="368" stroke="#888" stroke-width="0.8"/>
<line x1="212.5" y1="368" x2="214.7" y2="368" stroke="#888" stroke-width="0.8"/>
<line x1="244.5" y1="373.5" x2="244.5" y2="364" stroke="#888" stroke-width="0.8"/>
<line x1="243.4" y1="364" x2="245.6" y2="364" stroke="#888" stroke-width="0.8"/>
<line x1="275.8" y1="375.3" x2="275.8" y2="370.7" stroke="#888" stroke-width="0.8"/>
<line x1="274.7" y1="370.7" x2="276.90000000000003" y2="370.7" stroke="#888" stroke-width="0.8"/>
<polyline points="181.8,404.3 213.6,374.4 244.5,373.5 275.8,375.3" fill="none" stroke="#909090" stroke-width="1.1" stroke-linejoin="round"/>
<path d="M180.60000000000002,404.3 L181.8,403.1 L183.0,404.3 L181.8,405.5 Z" fill="#777"/>
<path d="M212.4,374.4 L213.6,373.2 L214.79999999999998,374.4 L213.6,375.59999999999997 Z" fill="#777"/>
<path d="M243.3,373.5 L244.5,372.3 L245.7,373.5 L244.5,374.7 Z" fill="#777"/>
<path d="M274.6,375.3 L275.8,374.1 L277.0,375.3 L275.8,376.5 Z" fill="#777"/>
<polyline points="181.8,401.9 213.6,389.5 244.5,377.6 275.8,380.8" fill="none" stroke="#3c3cc8" stroke-width="1.5" stroke-linejoin="round"/>
<rect x="180.0" y="400.09999999999997" width="3.6" height="3.6" fill="#0a0ac0"/>
<rect x="211.79999999999998" y="387.7" width="3.6" height="3.6" fill="#0a0ac0"/>
<rect x="242.7" y="375.8" width="3.6" height="3.6" fill="#0a0ac0"/>
<rect x="274.0" y="379.0" width="3.6" height="3.6" fill="#0a0ac0"/>
<polyline points="181.8,407.4 213.6,394.3 244.5,373 275.8,379.5" fill="none" stroke="#d4404c" stroke-width="1.4" stroke-linejoin="round"/>
<path d="M180.4,408.79999999999995 L183.20000000000002,408.79999999999995 L181.8,406.0 Z" fill="#c02030"/>
<path d="M212.2,395.7 L215.0,395.7 L213.6,392.90000000000003 Z" fill="#c02030"/>
<path d="M243.1,374.4 L245.9,374.4 L244.5,371.6 Z" fill="#c02030"/>
<path d="M274.40000000000003,380.9 L277.2,380.9 L275.8,378.1 Z" fill="#c02030"/>
<text x="203.3" y="345.6" font-size="9.5" font-family="Liberation Sans" font-weight="bold" stroke="#000" stroke-width="0.35" text-anchor="start" fill="#000" textLength="59.5" lengthAdjust="spacingAndGlyphs" >WBC&#160; (x10<tspan dy="-3.3" font-size="6.5">3</tspan><tspan dy="3.3">)/μl</tspan></text>
<text x="191.2" y="480.1" font-size="10" font-family="Liberation Sans" font-weight="bold" stroke="#000" stroke-width="0.35" text-anchor="start" fill="#000" textLength="77.4" lengthAdjust="spacingAndGlyphs" >Months post BMT</text>
<text x="306.3" y="142.2" font-size="12" font-family="Liberation Sans" font-weight="bold" stroke="#000" stroke-width="0.35" text-anchor="start" fill="#000" >D</text>
<line x1="343.7" y1="137.3" x2="343.7" y2="278.8" stroke="#111" stroke-width="1.3"/>
<line x1="343" y1="278.3" x2="514.5" y2="278.3" stroke="#111" stroke-width="1.3"/>
<line x1="341" y1="278.3" x2="344" y2="278.3" stroke="#000" stroke-width="1.2"/>
<text x="333.5" y="280.8" font-size="7" font-family="Liberation Sans" font-weight="bold" stroke="#000" stroke-width="0.35" text-anchor="end" fill="#000" textLength="3.4" lengthAdjust="spacingAndGlyphs" >0</text>
<line x1="341" y1="250.10000000000002" x2="344" y2="250.10000000000002" stroke="#000" stroke-width="1.2"/>
<text x="333.5" y="252.60000000000002" font-size="7" font-family="Liberation Sans" font-weight="bold" stroke="#000" stroke-width="0.35" text-anchor="end" fill="#000" textLength="6.6" lengthAdjust="spacingAndGlyphs" >20</text>
<line x1="341" y1="221.9" x2="344" y2="221.9" stroke="#000" stroke-width="1.2"/>
<text x="333.5" y="224.4" font-size="7" font-family="Liberation Sans" font-weight="bold" stroke="#000" stroke-width="0.35" text-anchor="end" fill="#000" textLength="6.6" lengthAdjust="spacingAndGlyphs" >40</text>
<line x1="341" y1="193.70000000000002" x2="344" y2="193.70000000000002" stroke="#000" stroke-width="1.2"/>
<text x="333.5" y="196.20000000000002" font-size="7" font-family="Liberation Sans" font-weight="bold" stroke="#000" stroke-width="0.35" text-anchor="end" fill="#000" textLength="6.6" lengthAdjust="spacingAndGlyphs" >60</text>
<line x1="341" y1="165.5" x2="344" y2="165.5" stroke="#000" stroke-width="1.2"/>
<text x="333.5" y="168.0" font-size="7" font-family="Liberation Sans" font-weight="bold" stroke="#000" stroke-width="0.35" text-anchor="end" fill="#000" textLength="6.6" lengthAdjust="spacingAndGlyphs" >80</text>
<line x1="341" y1="137.3" x2="344" y2="137.3" stroke="#000" stroke-width="1.2"/>
<text x="333.5" y="139.8" font-size="7" font-family="Liberation Sans" font-weight="bold" stroke="#000" stroke-width="0.35" text-anchor="end" fill="#000" textLength="9.5" lengthAdjust="spacingAndGlyphs" >100</text>
<line x1="344.0" y1="278.3" x2="344.0" y2="282.8" stroke="#111" stroke-width="1.2"/>
<text x="344.0" y="292.9" font-size="7" font-family="Liberation Sans" font-weight="bold" stroke="#000" stroke-width="0.35" text-anchor="middle" fill="#000" textLength="3.4" lengthAdjust="spacingAndGlyphs" >0</text>
<line x1="378.2" y1="278.3" x2="378.2" y2="282.8" stroke="#111" stroke-width="1.2"/>
<text x="378.2" y="292.9" font-size="7" font-family="Liberation Sans" font-weight="bold" stroke="#000" stroke-width="0.35" text-anchor="middle" fill="#000" textLength="6.6" lengthAdjust="spacingAndGlyphs" >20</text>
<line x1="412.4" y1="278.3" x2="412.4" y2="282.8" stroke="#111" stroke-width="1.2"/>
<text x="412.4" y="292.9" font-size="7" font-family="Liberation Sans" font-weight="bold" stroke="#000" stroke-width="0.35" text-anchor="middle" fill="#000" textLength="6.6" lengthAdjust="spacingAndGlyphs" >40</text>
<line x1="446.6" y1="278.3" x2="446.6" y2="282.8" stroke="#111" stroke-width="1.2"/>
<text x="446.6" y="292.9" font-size="7" font-family="Liberation Sans" font-weight="bold" stroke="#000" stroke-width="0.35" text-anchor="middle" fill="#000" textLength="6.6" lengthAdjust="spacingAndGlyphs" >60</text>
<line x1="480.8" y1="278.3" x2="480.8" y2="282.8" stroke="#111" stroke-width="1.2"/>
<text x="480.8" y="292.9" font-size="7" font-family="Liberation Sans" font-weight="bold" stroke="#000" stroke-width="0.35" text-anchor="middle" fill="#000" textLength="6.6" lengthAdjust="spacingAndGlyphs" >80</text>
<line x1="515.0" y1="278.3" x2="515.0" y2="282.8" stroke="#111" stroke-width="1.2"/>
<text x="515.0" y="292.9" font-size="7" font-family="Liberation Sans" font-weight="bold" stroke="#000" stroke-width="0.35" text-anchor="middle" fill="#000" textLength="9.5" lengthAdjust="spacingAndGlyphs" >100</text>
<text x="0" y="0" font-size="10" font-family="Liberation Sans" font-weight="bold" stroke="#000" stroke-width="0.3" text-anchor="middle" transform="translate(316.9,215.4) rotate(-90)" textLength="89.5" lengthAdjust="spacingAndGlyphs">Percent survival (%)</text>
<text x="416" y="304.5" font-size="10" font-family="Liberation Sans" font-weight="bold" stroke="#000" stroke-width="0.35" text-anchor="start" fill="#000" textLength="28.5" lengthAdjust="spacingAndGlyphs" >Weeks</text>
<line x1="341" y1="136.3" x2="483.7" y2="136.3" stroke="#c04850" stroke-width="1.1"/>
<line x1="366" y1="136.3" x2="366" y2="134.10000000000002" stroke="#703030" stroke-width="0.9"/>
<line x1="371" y1="136.3" x2="371" y2="134.10000000000002" stroke="#703030" stroke-width="0.9"/>
<line x1="378" y1="136.3" x2="378" y2="134.10000000000002" stroke="#703030" stroke-width="0.9"/>
<line x1="384" y1="136.3" x2="384" y2="134.10000000000002" stroke="#703030" stroke-width="0.9"/>
<line x1="388" y1="136.3" x2="388" y2="134.10000000000002" stroke="#703030" stroke-width="0.9"/>
<line x1="393" y1="136.3" x2="393" y2="134.10000000000002" stroke="#703030" stroke-width="0.9"/>
<line x1="398" y1="136.3" x2="398" y2="134.10000000000002" stroke="#703030" stroke-width="0.9"/>
<line x1="402" y1="136.3" x2="402" y2="134.10000000000002" stroke="#703030" stroke-width="0.9"/>
<line x1="406" y1="136.3" x2="406" y2="134.10000000000002" stroke="#703030" stroke-width="0.9"/>
<line x1="411" y1="136.3" x2="411" y2="134.10000000000002" stroke="#703030" stroke-width="0.9"/>
<line x1="414" y1="136.3" x2="414" y2="134.10000000000002" stroke="#703030" stroke-width="0.9"/>
<line x1="419" y1="136.3" x2="419" y2="134.10000000000002" stroke="#703030" stroke-width="0.9"/>
<line x1="423" y1="136.3" x2="423" y2="134.10000000000002" stroke="#703030" stroke-width="0.9"/>
<line x1="428" y1="136.3" x2="428" y2="134.10000000000002" stroke="#703030" stroke-width="0.9"/>
<line x1="432" y1="136.3" x2="432" y2="134.10000000000002" stroke="#703030" stroke-width="0.9"/>
<line x1="436" y1="136.3" x2="436" y2="134.10000000000002" stroke="#703030" stroke-width="0.9"/>
<line x1="441" y1="136.3" x2="441" y2="134.10000000000002" stroke="#703030" stroke-width="0.9"/>
<line x1="446" y1="136.3" x2="446" y2="134.10000000000002" stroke="#703030" stroke-width="0.9"/>
<line x1="451" y1="136.3" x2="451" y2="134.10000000000002" stroke="#703030" stroke-width="0.9"/>
<line x1="455" y1="136.3" x2="455" y2="134.10000000000002" stroke="#703030" stroke-width="0.9"/>
<line x1="460" y1="136.3" x2="460" y2="134.10000000000002" stroke="#703030" stroke-width="0.9"/>
<line x1="466" y1="136.3" x2="466" y2="134.10000000000002" stroke="#703030" stroke-width="0.9"/>
<line x1="471" y1="136.3" x2="471" y2="134.10000000000002" stroke="#703030" stroke-width="0.9"/>
<line x1="476" y1="136.3" x2="476" y2="134.10000000000002" stroke="#703030" stroke-width="0.9"/>
<line x1="480" y1="136.3" x2="480" y2="134.10000000000002" stroke="#703030" stroke-width="0.9"/>
<line x1="483.7" y1="136.3" x2="483.7" y2="134.10000000000002" stroke="#703030" stroke-width="0.9"/>
<line x1="408" y1="138.6" x2="486.5" y2="138.6" stroke="#000" stroke-width="1.8"/>
<line x1="410" y1="138.6" x2="410" y2="136.4" stroke="#000" stroke-width="0.9"/>
<line x1="416" y1="138.6" x2="416" y2="136.4" stroke="#000" stroke-width="0.9"/>
<line x1="421" y1="138.6" x2="421" y2="136.4" stroke="#000" stroke-width="0.9"/>
<line x1="426" y1="138.6" x2="426" y2="136.4" stroke="#000" stroke-width="0.9"/>
<line x1="431" y1="138.6" x2="431" y2="136.4" stroke="#000" stroke-width="0.9"/>
<line x1="436" y1="138.6" x2="436" y2="136.4" stroke="#000" stroke-width="0.9"/>
<line x1="441" y1="138.6" x2="441" y2="136.4" stroke="#000" stroke-width="0.9"/>
<line x1="445" y1="138.6" x2="445" y2="136.4" stroke="#000" stroke-width="0.9"/>
<line x1="450" y1="138.6" x2="450" y2="136.4" stroke="#000" stroke-width="0.9"/>
<line x1="454" y1="138.6" x2="454" y2="136.4" stroke="#000" stroke-width="0.9"/>
<line x1="458" y1="138.6" x2="458" y2="136.4" stroke="#000" stroke-width="0.9"/>
<line x1="463" y1="138.6" x2="463" y2="136.4" stroke="#000" stroke-width="0.9"/>
<line x1="467" y1="138.6" x2="467" y2="136.4" stroke="#000" stroke-width="0.9"/>
<line x1="471" y1="138.6" x2="471" y2="136.4" stroke="#000" stroke-width="0.9"/>
<line x1="476" y1="138.6" x2="476" y2="136.4" stroke="#000" stroke-width="0.9"/>
<line x1="481" y1="138.6" x2="481" y2="136.4" stroke="#000" stroke-width="0.9"/>
<line x1="486" y1="138.6" x2="486" y2="136.4" stroke="#000" stroke-width="0.9"/>
<path d="M359.4,136.4 L361.9,143.1 L363.3,148.2 L364.7,149.1 L366.1,153.7 L367.5,158.8 L368.9,160.2 L371.2,160.6 L373.5,162.5 L375.8,162 L378.5,162.5 L380.9,164.3 L382.7,167.1 L383.6,169.9 L384.5,171.2 L403,171.2 L403,173.9 L445.2,173.9 L445.2,180.8 L451,180.8 L451,187.5 L493.3,187.5" fill="none" stroke="#b82838" stroke-width="1.3" stroke-linejoin="miter"/>
<line x1="414" y1="173.9" x2="414" y2="171.9" stroke="#702020" stroke-width="0.9"/>
<line x1="421" y1="173.9" x2="421" y2="171.9" stroke="#702020" stroke-width="0.9"/>
<line x1="428" y1="173.9" x2="428" y2="171.9" stroke="#702020" stroke-width="0.9"/>
<line x1="438" y1="173.9" x2="438" y2="171.9" stroke="#702020" stroke-width="0.9"/>
<line x1="462" y1="187.5" x2="462" y2="185.5" stroke="#702020" stroke-width="0.9"/>
<line x1="470" y1="187.5" x2="470" y2="185.5" stroke="#702020" stroke-width="0.9"/>
<line x1="478" y1="187.5" x2="478" y2="185.5" stroke="#702020" stroke-width="0.9"/>
<line x1="492" y1="187.5" x2="492" y2="185.5" stroke="#702020" stroke-width="0.9"/>
<text x="468.8" y="165.5" font-size="12" font-family="Liberation Sans" textLength="49.2" lengthAdjust="spacingAndGlyphs">p&lt;0.0001</text>
<line x1="360.2" y1="221.5" x2="374.2" y2="221.5" stroke="#000" stroke-width="1.3"/>
<line x1="367.2" y1="221.5" x2="367.2" y2="219" stroke="#000" stroke-width="0.9"/>
<line x1="360.2" y1="239.8" x2="374.2" y2="239.8" stroke="#b06060" stroke-width="1.5"/>
<line x1="367.2" y1="239.8" x2="367.2" y2="237.3" stroke="#804040" stroke-width="0.9"/>
<line x1="360.2" y1="256.2" x2="374.2" y2="256.2" stroke="#c02020" stroke-width="1.5"/>
<line x1="367.2" y1="256.2" x2="367.2" y2="253.7" stroke="#902020" stroke-width="0.9"/>
<text x="381" y="226.6" font-size="10.3" font-family="Liberation Sans" fill="#111">JAK2<tspan dy="-4.4" font-size="7.8">+/+</tspan><tspan dy="4.4" x="420.6">(n=144)</tspan></text>
<text x="381" y="245.4" font-size="10.3" font-family="Liberation Sans" fill="#111">JAK2<tspan dy="-4.4" font-size="7.8">R/+</tspan><tspan dy="4.4" x="420.6">(n=80)</tspan></text>
<text x="381" y="261.4" font-size="10.3" font-family="Liberation Sans" fill="#111">JAK2<tspan dy="-4.4" font-size="7.8">R/R</tspan><tspan dy="4.4" x="420.6">(n=81)</tspan></text>
<text x="306.8" y="316.4" font-size="12" font-family="Liberation Sans" font-weight="bold" stroke="#000" stroke-width="0.35" text-anchor="start" fill="#000" >E</text>
<line x1="344.2" y1="319.7" x2="344.2" y2="461.3" stroke="#111" stroke-width="1.3"/>
<line x1="343.5" y1="460.8" x2="515" y2="460.8" stroke="#111" stroke-width="1.3"/>
<line x1="341.5" y1="460.8" x2="344.5" y2="460.8" stroke="#000" stroke-width="1.2"/>
<text x="334.0" y="463.3" font-size="7" font-family="Liberation Sans" font-weight="bold" stroke="#000" stroke-width="0.35" text-anchor="end" fill="#000" textLength="3.4" lengthAdjust="spacingAndGlyphs" >0</text>
<line x1="341.5" y1="432.58" x2="344.5" y2="432.58" stroke="#000" stroke-width="1.2"/>
<text x="334.0" y="435.08" font-size="7" font-family="Liberation Sans" font-weight="bold" stroke="#000" stroke-width="0.35" text-anchor="end" fill="#000" textLength="6.6" lengthAdjust="spacingAndGlyphs" >20</text>
<line x1="341.5" y1="404.36" x2="344.5" y2="404.36" stroke="#000" stroke-width="1.2"/>
<text x="334.0" y="406.86" font-size="7" font-family="Liberation Sans" font-weight="bold" stroke="#000" stroke-width="0.35" text-anchor="end" fill="#000" textLength="6.6" lengthAdjust="spacingAndGlyphs" >40</text>
<line x1="341.5" y1="376.14" x2="344.5" y2="376.14" stroke="#000" stroke-width="1.2"/>
<text x="334.0" y="378.64" font-size="7" font-family="Liberation Sans" font-weight="bold" stroke="#000" stroke-width="0.35" text-anchor="end" fill="#000" textLength="6.6" lengthAdjust="spacingAndGlyphs" >60</text>
<line x1="341.5" y1="347.91999999999996" x2="344.5" y2="347.91999999999996" stroke="#000" stroke-width="1.2"/>
<text x="334.0" y="350.41999999999996" font-size="7" font-family="Liberation Sans" font-weight="bold" stroke="#000" stroke-width="0.35" text-anchor="end" fill="#000" textLength="6.6" lengthAdjust="spacingAndGlyphs" >80</text>
<line x1="341.5" y1="319.7" x2="344.5" y2="319.7" stroke="#000" stroke-width="1.2"/>
<text x="334.0" y="322.2" font-size="7" font-family="Liberation Sans" font-weight="bold" stroke="#000" stroke-width="0.35" text-anchor="end" fill="#000" textLength="9.5" lengthAdjust="spacingAndGlyphs" >100</text>
<line x1="344.5" y1="460.8" x2="344.5" y2="465.3" stroke="#111" stroke-width="1.2"/>
<text x="344.5" y="474.5" font-size="7" font-family="Liberation Sans" font-weight="bold" stroke="#000" stroke-width="0.35" text-anchor="middle" fill="#000" textLength="3.4" lengthAdjust="spacingAndGlyphs" >0</text>
<line x1="378.7" y1="460.8" x2="378.7" y2="465.3" stroke="#111" stroke-width="1.2"/>
<text x="378.7" y="474.5" font-size="7" font-family="Liberation Sans" font-weight="bold" stroke="#000" stroke-width="0.35" text-anchor="middle" fill="#000" textLength="6.6" lengthAdjust="spacingAndGlyphs" >20</text>
<line x1="412.9" y1="460.8" x2="412.9" y2="465.3" stroke="#111" stroke-width="1.2"/>
<text x="412.9" y="474.5" font-size="7" font-family="Liberation Sans" font-weight="bold" stroke="#000" stroke-width="0.35" text-anchor="middle" fill="#000" textLength="6.6" lengthAdjust="spacingAndGlyphs" >40</text>
<line x1="447.1" y1="460.8" x2="447.1" y2="465.3" stroke="#111" stroke-width="1.2"/>
<text x="447.1" y="474.5" font-size="7" font-family="Liberation Sans" font-weight="bold" stroke="#000" stroke-width="0.35" text-anchor="middle" fill="#000" textLength="6.6" lengthAdjust="spacingAndGlyphs" >60</text>
<line x1="481.3" y1="460.8" x2="481.3" y2="465.3" stroke="#111" stroke-width="1.2"/>
<text x="481.3" y="474.5" font-size="7" font-family="Liberation Sans" font-weight="bold" stroke="#000" stroke-width="0.35" text-anchor="middle" fill="#000" textLength="6.6" lengthAdjust="spacingAndGlyphs" >80</text>
<line x1="515.5" y1="460.8" x2="515.5" y2="465.3" stroke="#111" stroke-width="1.2"/>
<text x="515.5" y="474.5" font-size="7" font-family="Liberation Sans" font-weight="bold" stroke="#000" stroke-width="0.35" text-anchor="middle" fill="#000" textLength="9.5" lengthAdjust="spacingAndGlyphs" >100</text>
<text x="0" y="0" font-size="10" font-family="Liberation Sans" font-weight="bold" stroke="#000" stroke-width="0.3" text-anchor="middle" transform="translate(318.5,397.4) rotate(-90)" textLength="90.8" lengthAdjust="spacingAndGlyphs">Percent survival (%)</text>
<text x="418.6" y="486" font-size="10" font-family="Liberation Sans" font-weight="bold" stroke="#000" stroke-width="0.35" text-anchor="start" fill="#000" textLength="28.5" lengthAdjust="spacingAndGlyphs" >Weeks</text>
<path d="M344,318.7 L368.5,318.7 L368.5,322.9 L450.1,322.9 L450.1,338.3 L492.6,338.3" fill="none" stroke="#d0202c" stroke-width="1.3" stroke-linejoin="miter"/>
<line x1="366.3" y1="318.7" x2="366.3" y2="315.9" stroke="#333" stroke-width="0.9"/>
<line x1="371.8" y1="322.9" x2="371.8" y2="320.09999999999997" stroke="#222" stroke-width="1"/>
<line x1="383.3" y1="322.9" x2="383.3" y2="320.09999999999997" stroke="#222" stroke-width="1"/>
<line x1="393.8" y1="322.9" x2="393.8" y2="320.09999999999997" stroke="#222" stroke-width="1"/>
<line x1="404.2" y1="322.9" x2="404.2" y2="320.09999999999997" stroke="#222" stroke-width="1"/>
<line x1="411.9" y1="322.9" x2="411.9" y2="320.09999999999997" stroke="#222" stroke-width="1"/>
<line x1="419.3" y1="322.9" x2="419.3" y2="320.09999999999997" stroke="#222" stroke-width="1"/>
<line x1="433.9" y1="322.9" x2="433.9" y2="320.09999999999997" stroke="#222" stroke-width="1"/>
<line x1="441.8" y1="322.9" x2="441.8" y2="320.09999999999997" stroke="#222" stroke-width="1"/>
<line x1="463.4" y1="338.3" x2="463.4" y2="335.5" stroke="#222" stroke-width="1"/>
<line x1="477" y1="338.3" x2="477" y2="335.5" stroke="#222" stroke-width="1"/>
<line x1="492.6" y1="338.3" x2="492.6" y2="335.5" stroke="#222" stroke-width="1"/>
<path d="M360.2,318.7 L361.5,326 L363,333 L364.5,340 L366,347 L367.3,354 L368.5,359 L371.3,359 L371.3,360.8 L374,360.8 L374,363.6 L377.7,363.6 L377.7,365.5 L381.4,365.5 L381.4,369.2 L383.3,369.2 L383.3,374.7 L384.8,374.7 L384.8,380.6 L403.6,380.6 L403.6,386.2 L444.6,386.2 L444.6,398.7 L463.4,398.7" fill="none" stroke="#1c1c50" stroke-width="1.3" stroke-linejoin="miter"/>
<line x1="394" y1="380.6" x2="394" y2="378.0" stroke="#111" stroke-width="0.9"/>
<line x1="411.7" y1="386.2" x2="411.7" y2="383.59999999999997" stroke="#111" stroke-width="0.9"/>
<line x1="423" y1="386.2" x2="423" y2="383.59999999999997" stroke="#111" stroke-width="0.9"/>
<line x1="434.8" y1="386.2" x2="434.8" y2="383.59999999999997" stroke="#111" stroke-width="0.9"/>
<line x1="440.9" y1="386.2" x2="440.9" y2="383.59999999999997" stroke="#111" stroke-width="0.9"/>
<line x1="456" y1="398.7" x2="456" y2="396.09999999999997" stroke="#111" stroke-width="1"/>
<line x1="463" y1="398.7" x2="463" y2="396.09999999999997" stroke="#111" stroke-width="1"/>
<text x="424.6" y="361.4" font-size="12" font-family="Liberation Sans" textLength="49" lengthAdjust="spacingAndGlyphs">p&lt;0.0001</text>
<line x1="359.5" y1="419.9" x2="374.2" y2="419.9" stroke="#d02030" stroke-width="1.5"/>
<line x1="366.8" y1="419.9" x2="366.8" y2="417" stroke="#333" stroke-width="0.9"/>
<line x1="359.5" y1="444.9" x2="374.2" y2="444.9" stroke="#202050" stroke-width="1.5"/>
<line x1="366.8" y1="444.9" x2="366.8" y2="442" stroke="#111" stroke-width="0.9"/>
<text x="382.8" y="423" font-size="11" font-family="Liberation Sans" text-anchor="start" fill="#111" textLength="74.2" lengthAdjust="spacingAndGlyphs" >Female&#160;&#160;(n=35)</text>
<text x="382.8" y="448.3" font-size="11" font-family="Liberation Sans" text-anchor="start" fill="#111" textLength="62.2" lengthAdjust="spacingAndGlyphs" >Male&#160;&#160;(n=46)</text></svg></body></html>
